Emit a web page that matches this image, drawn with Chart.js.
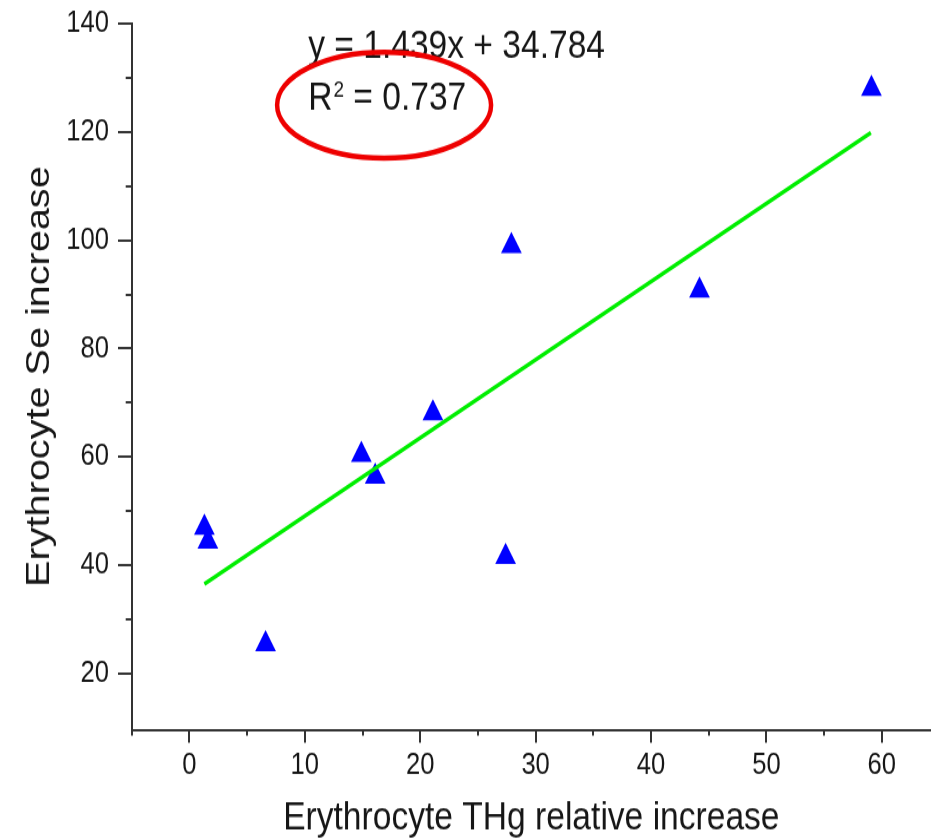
<!DOCTYPE html>
<html>
<head>
<meta charset="utf-8">
<script src="https://cdn.jsdelivr.net/npm/chart.js@4.4.1/dist/chart.umd.min.js"></script>
<style>
html, body { margin: 0; padding: 0; background: #fff; overflow: hidden; }
</style>
</head>
<body>
<canvas id="c" width="931" height="712" style="display:block;width:931px;height:840px"></canvas>
<script>
// ---- data ----
const thgIncrease = [1.3, 1.6, 6.6, 14.9, 16.1, 21.1, 27.4, 27.9, 44.2, 59.1];
const seIncrease  = [47.0, 44.4, 25.5, 60.4, 56.4, 68.1, 41.6, 98.9, 90.7, 127.9];
const fitX = [1.3, 59.05];
const fitY = [36.6, 119.8];
const xTickValues  = [0, 10, 20, 30, 40, 50, 60];
const xMinorTicks  = [-5, 5, 15, 25, 35, 45, 55];
const yTickValues  = [20, 40, 60, 80, 100, 120, 140];
const yMinorTicks  = [30, 50, 70, 90, 110, 130];
const xTitle = 'Erythrocyte THg relative increase';
const yTitle = 'Erythrocyte Se increase';
const equationText = 'y = 1.439x + 34.784';
const r2Base = 'R';
const r2Sup = '2';
const r2Rest = ' = 0.737';

const FONT = '"Liberation Sans", Arial, sans-serif';
const AXIS = '#333333';
const TEXT = '#161616';

// annotation anchors, in data units
const eqAnchor = [10.29, 133.6];
const r2Anchor = [10.29, 124.0];
const ellipseCenter = [16.87, 124.9];
const ellipseRadii = [9.27, 9.77];

const annotationPlugin = {
  id: 'annot',
  afterDraw(chart) {
    const ctx = chart.ctx;
    const xs = chart.scales.x, ys = chart.scales.y;
    ctx.save();
    // minor ticks
    ctx.strokeStyle = AXIS;
    ctx.lineWidth = 2;
    xMinorTicks.forEach(v => {
      const px = Math.round(xs.getPixelForValue(v));
      ctx.beginPath(); ctx.moveTo(px, xs.top); ctx.lineTo(px, xs.top + 5); ctx.stroke();
    });
    yMinorTicks.forEach(v => {
      const py = Math.round(ys.getPixelForValue(v));
      ctx.beginPath(); ctx.moveTo(ys.right - 6, py); ctx.lineTo(ys.right, py); ctx.stroke();
    });
    // equation text
    ctx.fillStyle = TEXT;
    ctx.textBaseline = 'alphabetic';
    ctx.textAlign = 'left';
    ctx.font = '33.6px ' + FONT;
    ctx.fillText(equationText, xs.getPixelForValue(eqAnchor[0]), ys.getPixelForValue(eqAnchor[1]));
    let rx = xs.getPixelForValue(r2Anchor[0]);
    const ry = ys.getPixelForValue(r2Anchor[1]);
    ctx.fillText(r2Base, rx, ry);
    rx += ctx.measureText(r2Base).width + 1;
    ctx.font = '19px ' + FONT;
    ctx.fillText(r2Sup, rx, ry - 11.5);
    rx += ctx.measureText(r2Sup).width;
    ctx.font = '33.6px ' + FONT;
    ctx.fillText(r2Rest, rx, ry);
    // red ellipse
    const cx = xs.getPixelForValue(ellipseCenter[0]);
    const cy = ys.getPixelForValue(ellipseCenter[1]);
    const erx = Math.abs(xs.getPixelForValue(ellipseCenter[0] + ellipseRadii[0]) - cx);
    const ery = Math.abs(ys.getPixelForValue(ellipseCenter[1] + ellipseRadii[1]) - cy);
    ctx.strokeStyle = '#ee0000';
    ctx.lineWidth = 4.5;
    ctx.beginPath();
    ctx.ellipse(cx, cy, erx, ery, 0, 0, Math.PI * 2);
    ctx.stroke();
    ctx.restore();
  }
};

new Chart(document.getElementById('c'), {
  type: 'scatter',
  data: {
    datasets: [
      {
        type: 'line',
        data: fitX.map((x, i) => ({ x, y: fitY[i] })),
        borderColor: '#00ee00',
        borderWidth: 3.5,
        pointRadius: 0,
        fill: false,
        tension: 0
      },
      {
        data: thgIncrease.map((x, i) => ({ x, y: seIncrease[i] })),
        pointStyle: 'triangle',
        pointRadius: 12,
        pointHoverRadius: 12,
        backgroundColor: '#0000ff',
        borderColor: '#0000ff',
        borderWidth: 0
      }
    ]
  },
  options: {
    responsive: false,
    devicePixelRatio: 1,
    animation: false,
    events: [],
    layout: { autoPadding: false, padding: { top: 19.7, right: 0, bottom: 0, left: 0 } },
    plugins: { legend: { display: false }, tooltip: { enabled: false } },
    scales: {
      x: {
        type: 'linear',
        min: -5,
        max: 64.26,
        afterBuildTicks: s => { s.ticks = xTickValues.map(v => ({ value: v })); },
        afterFit: s => { s.height = 93.4; s.paddingLeft = 0; s.paddingRight = 0; },
        grid: { display: true, drawOnChartArea: false, drawTicks: true, tickLength: 11, color: AXIS, lineWidth: 2 },
        border: { display: true, color: AXIS, width: 2 },
        ticks: { color: TEXT, font: { family: FONT, size: 25.6 }, padding: 4, maxRotation: 0, autoSkip: false },
        title: { display: true, text: xTitle, color: TEXT, font: { family: FONT, size: 33.6, lineHeight: 1 }, padding: { top: 0, bottom: 1 } }
      },
      y: {
        type: 'linear',
        min: 9.7,
        max: 140,
        afterBuildTicks: s => { s.ticks = yTickValues.map(v => ({ value: v })); },
        afterFit: s => { s.width = 131.7; s.paddingTop = 0; s.paddingBottom = 0; },
        grid: { display: true, drawOnChartArea: false, drawTicks: true, tickLength: 13.7, color: AXIS, lineWidth: 2 },
        border: { display: true, color: AXIS, width: 2 },
        ticks: { color: TEXT, font: { family: FONT, size: 25.6 }, padding: 9, autoSkip: false },
        title: { display: true, text: yTitle, color: TEXT, font: { family: FONT, size: 33.6, lineHeight: 1 }, padding: { top: 23, bottom: 0 } }
      }
    }
  },
  plugins: [annotationPlugin]
});
</script>
</body>
</html>
